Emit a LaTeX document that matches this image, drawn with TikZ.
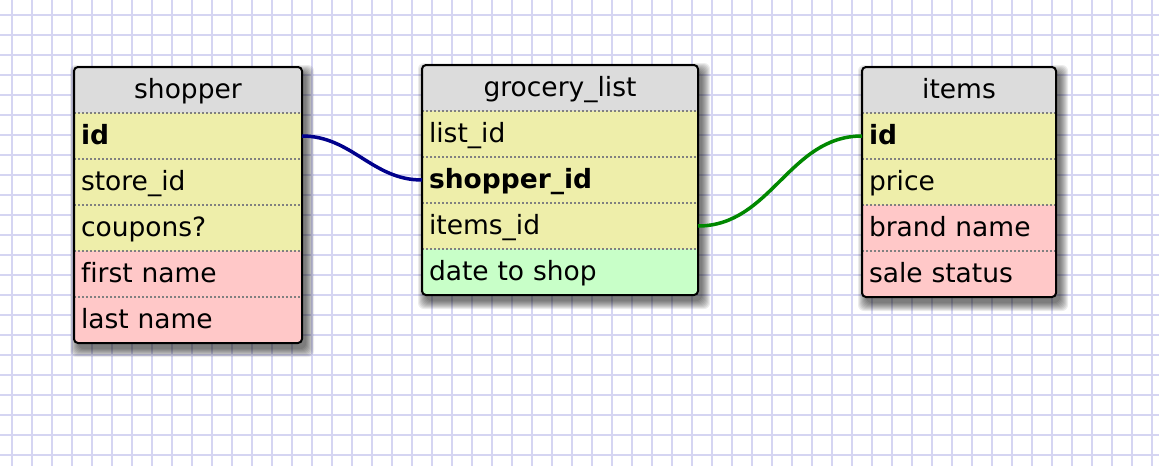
\documentclass[tikz,border=0pt]{standalone}
\usepackage{fontspec}
\setmainfont{DejaVu Sans}[Ligatures=NoCommon]
\usepackage{tikz}
\usetikzlibrary{positioning}

\definecolor{gridline}{RGB}{213,213,242}
\definecolor{headgray}{RGB}{220,220,220}
\definecolor{keyyellow}{RGB}{238,238,170}
\definecolor{fieldpink}{RGB}{255,200,200}
\definecolor{extragreen}{RGB}{200,255,200}
\definecolor{dotgray}{RGB}{128,128,128}
\definecolor{linkblue}{RGB}{0,0,140}
\definecolor{linkgreen}{RGB}{0,136,0}

\tikzset{
    cell/.style={minimum height=46pt, inner xsep=7pt, inner ysep=0pt, outer sep=0pt,
        text height=20pt, text depth=4pt, font=\fontsize{26.5}{30}\selectfont, align=left},
    tablehead/.style={cell, fill=headgray, align=center},
    keyfield/.style={cell, fill=keyyellow},
    namefield/.style={cell, fill=fieldpink},
    datefield/.style={cell, fill=extragreen},
    tableshadow/.style={fill=black, opacity=0.075, rounded corners=6pt, shift={(4,6)}},
    tableframe/.style={draw=black, line width=2pt, rounded corners=4pt},
    rowsep/.style={draw=dotgray, line width=2pt, dash pattern=on 2pt off 2pt},
    link/.style={line width=3.5pt, out=0, in=180}
}

\begin{document}
\begin{tikzpicture}[x=1pt, y=-1pt]
    \useasboundingbox (0,0) rectangle (1159,466);
    \fill[white] (0,0) rectangle (1159,466);
    % grid paper
    \foreach \gx in {12,32,...,1152}
        \draw[gridline, line width=2pt] (\gx,0) -- (\gx,466);
    \foreach \gy in {15,35,...,455}
        \draw[gridline, line width=2pt] (0,\gy) -- (1159,\gy);

    % shopper
    \foreach \s in {0,...,8}
        \fill[tableshadow] (74-\s,67-\s) rectangle (302+\s,343+\s);
    \begin{scope}[every node/.append style={minimum width=228pt, text width=214pt}]
        \clip[rounded corners=4pt] (74,67) rectangle (302,343);
        \node[tablehead, anchor=north west] (shopper) at (74,67) {shopper};
        \node[keyfield, below=0pt of shopper] (shopper-id) {\textbf{id}};
        \node[keyfield, below=0pt of shopper-id] (shopper-store) {store\_id};
        \node[keyfield, below=0pt of shopper-store] (shopper-coupons) {coupons?};
        \node[namefield, below=0pt of shopper-coupons] (shopper-first) {first name};
        \node[namefield, below=0pt of shopper-first] (shopper-last) {last name};
    \end{scope}
    \foreach \r in {shopper-id,shopper-store,shopper-coupons,shopper-first,shopper-last}
        \draw[rowsep] (\r.north west) -- (\r.north east);
    \draw[tableframe] (shopper.north west) rectangle (shopper-last.south east);

    % grocery_list
    \foreach \s in {0,...,8}
        \fill[tableshadow] (422-\s,65-\s) rectangle (698+\s,295+\s);
    \begin{scope}[every node/.append style={minimum width=276pt, text width=262pt}]
        \clip[rounded corners=4pt] (422,65) rectangle (698,295);
        \node[tablehead, anchor=north west] (grocery) at (422,65) {grocery\_list};
        \node[keyfield, below=0pt of grocery] (grocery-list) {list\_id};
        \node[keyfield, below=0pt of grocery-list] (grocery-shopper) {\textbf{shopper\_id}};
        \node[keyfield, below=0pt of grocery-shopper] (grocery-items) {items\_id};
        \node[datefield, below=0pt of grocery-items] (grocery-date) {date to shop};
    \end{scope}
    \foreach \r in {grocery-list,grocery-shopper,grocery-items,grocery-date}
        \draw[rowsep] (\r.north west) -- (\r.north east);
    \draw[tableframe] (grocery.north west) rectangle (grocery-date.south east);

    % items
    \foreach \s in {0,...,8}
        \fill[tableshadow] (862-\s,67-\s) rectangle (1056+\s,297+\s);
    \begin{scope}[every node/.append style={minimum width=194pt, text width=180pt}]
        \clip[rounded corners=4pt] (862,67) rectangle (1056,297);
        \node[tablehead, anchor=north west] (items) at (862,67) {items};
        \node[keyfield, below=0pt of items] (items-id) {\textbf{id}};
        \node[keyfield, below=0pt of items-id] (items-price) {price};
        \node[namefield, below=0pt of items-price] (items-brand) {brand name};
        \node[namefield, below=0pt of items-brand] (items-sale) {sale status};
    \end{scope}
    \foreach \r in {items-id,items-price,items-brand,items-sale}
        \draw[rowsep] (\r.north west) -- (\r.north east);
    \draw[tableframe] (items.north west) rectangle (items-sale.south east);

    % links
    \draw[link, linkblue] (shopper-id.east) to (grocery-shopper.west);
    \draw[link, linkgreen] (grocery-items.east) to (items-id.west);
\end{tikzpicture}
\end{document}
